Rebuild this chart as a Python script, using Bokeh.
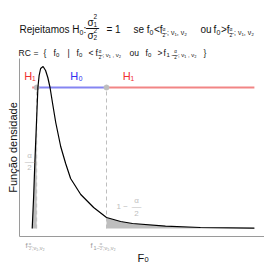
import math
from bokeh.plotting import figure
from bokeh.models import Label, FixedTicker, Range1d
from bokeh.embed import file_html
from bokeh.resources import INLINE

# ---- data ----
f_vals = [0.00, 0.06, 0.11, 0.18, 0.23, 0.28, 0.34, 0.44, 0.54, 0.63, 0.72, 0.83,
          0.95, 1.15, 1.35, 1.55, 1.96, 2.48, 3.00, 3.57, 4.05, 5.38, 6.79, 8.97]
dens = [0.000, 0.165, 0.340, 0.550, 0.705, 0.765, 0.800, 0.810, 0.790, 0.755, 0.705, 0.620,
        0.530, 0.410, 0.325, 0.250, 0.170, 0.105, 0.055, 0.035, 0.025, 0.012, 0.005, 0.002]
q_lo = 0.18    # f_{alpha/2; v1, v2}
q_hi = 3.00    # f_{1-alpha/2; v1, v2}
h_level = 0.705
tick_vals = [q_lo, q_hi]

# ---- layout: the frame fills the whole canvas; axes sit at fixed locations ----
W, H = 264, 264
X0, X1 = -1.2798, 9.378
Y0, Y1 = -0.18, 1.14


def dx(ix):
    return X0 + ix * (X1 - X0) / W


def dy(iy):
    return Y1 - iy * (Y1 - Y0) / H


p = figure(width=W, height=H, output_backend="svg", toolbar_location=None,
           x_range=Range1d(X0, X1), y_range=Range1d(Y0, Y1),
           min_border_left=0, min_border_right=0, min_border_top=0, min_border_bottom=0)
p.outline_line_color = None
p.xgrid.visible = False
p.ygrid.visible = False
p.background_fill_color = "white"
p.border_fill_color = "white"

AX = "#9a9a9a"
for ax in (p.xaxis[0], p.yaxis[0]):
    ax.axis_line_color = AX
    ax.major_tick_out = 0
    ax.major_tick_in = 0
    ax.minor_tick_out = 0
    ax.minor_tick_in = 0
    ax.major_label_text_font_size = "0px"
    ax.major_label_standoff = 0
    ax.axis_label = None
p.xaxis[0].ticker = FixedTicker(ticks=tick_vals)
p.xaxis[0].major_label_overrides = {v: "" for v in tick_vals}
p.yaxis[0].ticker = FixedTicker(ticks=[])
p.xaxis[0].fixed_location = dy(236)
p.xaxis[0].bounds = (dx(19), dx(264))
p.yaxis[0].fixed_location = dx(19)
p.yaxis[0].bounds = (dy(236), dy(58))

GREY = "#bebebe"
RED_L = "#f28585"
BLUE_L = "#8585f2"

# shaded tails
lx = [x for x in f_vals if x <= q_lo]
ly = [d for x, d in zip(f_vals, dens) if x <= q_lo]
rx = [x for x in f_vals if x >= q_hi]
ry = [d for x, d in zip(f_vals, dens) if x >= q_hi]
p.varea(x=lx, y1=[0] * len(lx), y2=ly, fill_color=GREY)
p.varea(x=rx, y1=[0] * len(rx), y2=ry, fill_color=GREY)

# dashed quantile lines
p.segment(x0=tick_vals, y0=[0, 0], x1=tick_vals, y1=[h_level, h_level],
          line_color=GREY, line_width=1, line_dash="4 3")

# hypothesis bar
p.line([f_vals[0], q_lo], [h_level, h_level], line_color=RED_L, line_width=2)
p.line([q_lo, q_hi], [h_level, h_level], line_color=BLUE_L, line_width=2)
p.line([q_hi, f_vals[-1]], [h_level, h_level], line_color=RED_L, line_width=2)
p.scatter(tick_vals, [h_level, h_level], size=5, color=GREY)

# density curve
p.line(f_vals, dens, line_color="black", line_width=1.2)


def put(txt, ix, iy, size, color="#111111", align="left", baseline="alphabetic", angle=0.0):
    p.add_layout(Label(x=dx(ix), y=dy(iy), text=txt, text_font_size=f"{size}px",
                       text_color=color, text_align=align, text_baseline=baseline,
                       angle=angle, text_font="Liberation Sans"))


def frac(cx, top_base, bot_base, bar_y, size, color="#111111", barw=None):
    put("α", cx, top_base, size, color, align="center")
    put("2", cx, bot_base, size, color, align="center")
    bw = barw if barw else size * 1.2
    put("—", cx, bar_y + 0.275 * bw, bw, color, align="center")


# ---- title line 1 ----
put("Rejeitamos H", 19, 29, 10)
put("0", 79, 31.5, 7)
put(":", 83, 29, 10)
put("σ", 87, 21.5, 10)
put("2", 93, 16, 6.5)
put("1", 93, 24, 6.5)
put("—", 92, 27.3, 13, align="center")
put("σ", 87, 35, 10)
put("2", 93, 29.5, 6.5)
put("2", 93, 37, 6.5)
put("= 1", 106, 29, 10)
put("se f", 133, 29, 10)
put("0", 149, 31.5, 7)
put("<f", 153.5, 29, 10)
frac(163.5, 28.5, 34.5, 30.5, 5)
put("; ν₁, ν₂", 166.5, 32, 7)
put("ou", 200, 29, 10)
put("f", 213, 29, 10)
put("0", 216, 31.5, 7)
put(">f", 220.5, 29, 10)
frac(230.5, 28.5, 34.5, 30.5, 5)
put("; ν₁, ν₂", 233.5, 32, 7)

# ---- title line 2 ----
put("RC", 18, 52, 8.5)
put("=", 33, 52, 8.5)
put("{", 43, 52, 8.5)
put("f", 53, 52, 8.5)
put("0", 55.5, 54, 6)
put("|", 67, 52, 8.5)
put("f", 76, 52, 8.5)
put("0", 78.5, 54, 6)
put("<", 88, 52, 8.5)
put("f", 95, 52, 8.5)
frac(99.5, 51, 56.5, 53, 4.5)
put("; ν₁ , ν₂", 102, 54.5, 6)
put("ou", 129, 52, 8.5)
put("f", 145, 52, 8.5)
put("0", 147.5, 54, 6)
put(">", 157, 52, 8.5)
put("f", 163, 52, 8.5)
put("1 −", 166, 54.5, 6)
frac(175, 51, 56.5, 53, 4.5)
put("; ν₁ , ν₂", 177.5, 54.5, 6)
put("}", 203, 52, 8.5)

# ---- in-plot labels ----
put("H₁", 29.5, 75, 11, "#f03030", align="center", baseline="middle")
put("H₀", 76, 75, 11, "#3030f0", align="center", baseline="middle")
put("H₁", 128, 75, 11, "#f03030", align="center", baseline="middle")
frac(29, 155, 167, 158.5, 8, GREY)
put("1 −", 116, 206, 8, GREY)
frac(136, 200, 213, 203.5, 8, GREY)

# ---- tick labels ----
TK = "#999999"
put("f", 25, 245, 7.5, TK)
frac(29.5, 242.5, 248, 244.5, 4, TK)
put(";ν₁,ν₂", 31.5, 247, 5.5, TK)
put("f", 90, 245, 7.5, TK)
put("1−", 93, 247, 5.5, TK)
frac(100.5, 242.5, 248, 244.5, 4, TK)
put(";ν₁,ν₂", 102.5, 247, 5.5, TK)

# ---- axis titles ----
put("Função densidade", 12.5, 147, 11, align="center", baseline="middle", angle=math.pi / 2)
put("F", 137, 257, 11)
put("0", 144, 259, 7.5)

open("out.html", "w").write(file_html(p, INLINE))
